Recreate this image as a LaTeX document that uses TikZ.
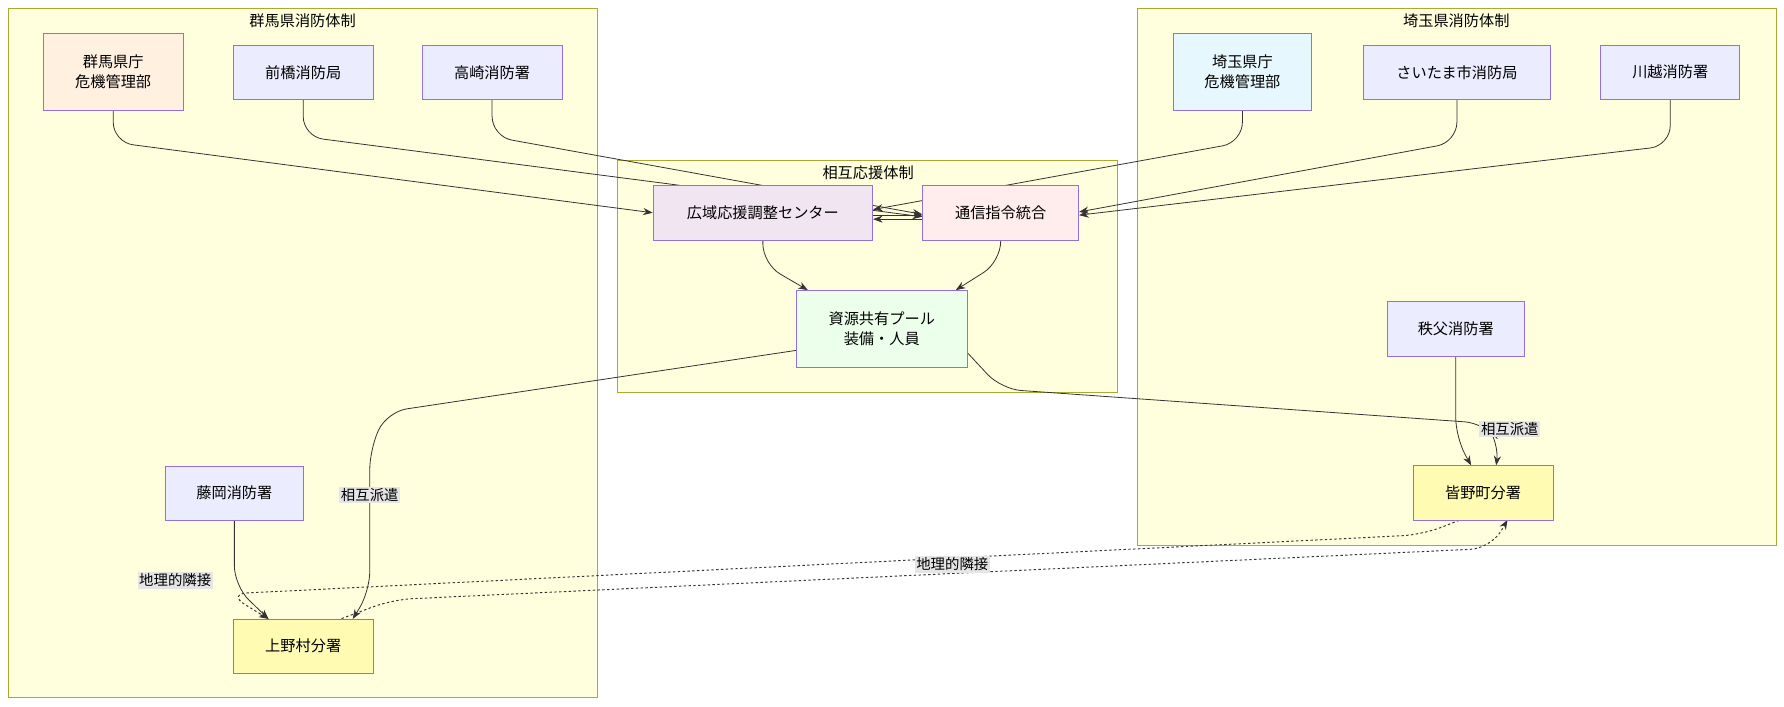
\documentclass[tikz,border=0pt]{standalone}
\usepackage{fontspec}
\setmainfont{Noto Sans CJK JP}
\usetikzlibrary{arrows.meta,backgrounds}
\definecolor{cstroke}{HTML}{AAAA33}
\definecolor{cfill}{HTML}{FFFFDE}
\definecolor{nstroke}{HTML}{9370DB}
\definecolor{nfill}{HTML}{ECECFF}
\begin{document}
\begin{tikzpicture}[x=0.05cm,y=-0.05cm,
 font=\fontsize{19}{25}\selectfont,
 clus/.style={draw=cstroke,fill=cfill,line width=1pt},
 box/.style={draw=nstroke,fill=nfill,line width=1pt,inner sep=0pt,align=center},
 edge/.style={draw=black!80,line width=1pt,-{Stealth[length=12pt,width=9pt]},rounded corners=25pt},
 dedge/.style={edge,dash pattern=on 3pt off 3pt,line width=1.2pt},
 lab/.style={fill=black!10,inner sep=2pt,font=\fontsize{18}{20}\selectfont}]
\useasboundingbox (0,0) rectangle (1568,621);
\node[box,fill=orange!12,minimum width=6.15cm,minimum height=3.4cm] (g1) at (99.5,63) {群馬県庁\\危機管理部};
\node[box,minimum width=6.15cm,minimum height=2.35cm] (g2) at (266.5,63.5) {前橋消防局};
\node[box,minimum width=6.15cm,minimum height=2.35cm] (g3) at (432.5,63.5) {高崎消防署};
\node[box,fill=cyan!10,minimum width=6.1cm,minimum height=3.4cm] (s1) at (1092,63) {埼玉県庁\\危機管理部};
\node[box,minimum width=8.25cm,minimum height=2.35cm] (s2) at (1280.5,63.5) {さいたま市消防局};
\node[box,minimum width=6.1cm,minimum height=2.35cm] (s3) at (1468,63.5) {川越消防署};
\node[box,fill=violet!10,minimum width=9.65cm,minimum height=2.4cm] (k) at (670.5,187) {広域応援調整センター};
\node[box,fill=pink!30,minimum width=6.85cm,minimum height=2.4cm] (c) at (879.5,187) {通信指令統合};
\node[box,fill=green!8,minimum width=7.5cm,minimum height=3.4cm] (r) at (775,289) {資源共有プール\\装備・人員};
\node[box,minimum width=6.05cm,minimum height=2.4cm] (ch) at (1279.5,289) {秩父消防署};
\node[box,fill=yellow!30,minimum width=6.15cm,minimum height=2.4cm] (m) at (1303.5,433) {皆野町分署};
\node[box,minimum width=6.1cm,minimum height=2.35cm] (f) at (206,433.5) {藤岡消防署};
\node[box,fill=yellow!30,minimum width=6.15cm,minimum height=2.4cm] (u) at (266.5,568) {上野村分署};
\node[lab] (l1) at (325,435) {相互派遣};
\node[lab] (l2) at (1327,377) {相互派遣};
\node[lab] (l3) at (837,496) {地理的隣接};
\node[lab] (l4) at (154,510) {地理的隣接};
\begin{scope}[on background layer]
\draw[clus] (7,7) rectangle (525,613);
\draw[clus] (1000,7) rectangle (1561,479);
\draw[clus] (543,141) rectangle (982,345);
\node (t1) at (266,18) {群馬県消防体制};
\node (t2) at (1280,18) {埼玉県消防体制};
\node (t3) at (763,152) {相互応援体制};
\draw[edge] (g1.south) -- (99.5,125) -- (k.west);
\draw[edge] (g2.south) -- (266.5,120) -- ([yshift=-5]c.west);
\draw[edge] (g3.south) -- (432.5,120) -- ([yshift=-2]c.west);
\draw[edge] (s1.south) -- (1092,125) -- ([yshift=4]k.east);
\draw[edge] (s2.south) -- (1280.5,125) -- ([yshift=1]c.east);
\draw[edge] (s3.south) -- (1468,128) -- ([yshift=-3]c.east);
\draw[edge] ([yshift=-3]k.east) -- ([yshift=-3]c.west);
\draw[edge] ([yshift=-8]c.west) -- ([yshift=-8]k.east);
\draw[edge] (k.south) -- (670.5,232) -- (710,255);
\draw[edge] (c.south) -- (879.5,230) -- (840,255);
\draw[edge] ([yshift=-27]r.west) -- (340,362) -- (325,395) -- (325,520) -- (310,544);
\draw[edge] ([yshift=-30]r.east) -- (880,342) -- (1305,372) -- (1318,388) -- (1315,409);
\draw[edge] (ch.south) -- (1279.5,385) -- (1293,409);
\draw[edge] (f.south) -- (206,515) -- (236,544);
\draw[dedge] ([xshift=-30]m.south) -- (1250,470) -- (200,522) -- (236,544);
\draw[dedge] ([xshift=48]u.north) -- (345,527) -- (1310,482) -- (1325,457);
\end{scope}
\end{tikzpicture}
\end{document}
